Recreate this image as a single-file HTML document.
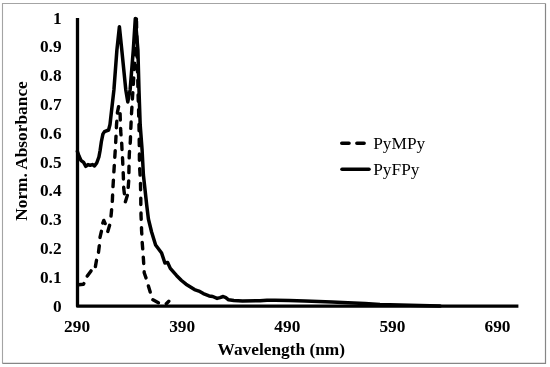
<!DOCTYPE html>
<html><head><meta charset="utf-8"><title>Absorbance</title>
<style>
html,body{margin:0;padding:0;background:#fff;}
svg{display:block;}
text{font-family:"Liberation Serif",serif;fill:#000;}
.b{font-weight:bold;font-size:17.33px;}
.l{font-size:17.33px;}
</style></head><body>
<svg width="550" height="367" viewBox="0 0 550 367">
<rect x="0" y="0" width="550" height="367" fill="#fff"/>
<path d="M2.5,363.4 V3.5 H545.5" fill="none" stroke="#a4a4a4" stroke-width="1.1"/>
<path d="M545.5,3.5 V363.4 H2.5" fill="none" stroke="#868686" stroke-width="1.2"/>
<polyline points="77.5,17.9 77.5,306.2 518.4,306.2" fill="none" stroke="#000" stroke-width="3.3" stroke-linejoin="round"/>
<polyline points="77.4,151.5 79.0,156.0 80.9,160.3 83.6,162.4 85.8,166.3 88.0,164.6 90.2,165.2 92.4,164.6 94.5,165.9 96.7,163.0 98.9,157.0 100.1,150.5 101.4,141.5 102.9,134.2 104.5,131.6 108.6,130.0 110.0,124.5 110.5,120.0 113.9,90.0 116.9,50.0 119.4,26.8 121.8,50.0 125.8,90.0 127.8,102.0 130.1,90.0 133.3,50.0 135.3,18.5 137.9,50.0 139.0,90.0 140.2,125.0 142.1,150.0 143.4,175.0 146.7,205.0 148.4,219.0 151.6,232.0 155.6,245.0 161.6,253.0 164.9,263.0 167.6,262.4 170.3,268.4 173.6,272.2 176.5,275.4 181.5,280.5 186.0,284.2 194.5,289.6 198.9,291.1 203.3,293.6 209.1,295.9 212.7,296.5 217.1,298.4 220.0,297.6 223.2,296.5 225.8,297.6 228.6,299.8 233.8,300.5 242.5,300.9 260.0,300.8 267.0,300.2 275.0,300.3 289.0,300.4 305.0,301.0 332.0,302.0 348.0,302.8 365.0,303.4 380.0,304.4 410.0,305.2 440.0,306.1" fill="none" stroke="#000" stroke-width="3.5" stroke-linejoin="round" stroke-linecap="round"/>
<path d="M78.5,284.8 L83.4,284.2 L83.8,283.6 M87.3,276.1 L91.0,270.9 M95.4,266.6 L96.5,260.3 M98.5,252.2 L99.3,245.8 M100.0,237.5 L100.0,237.3 L101.4,231.3 M102.8,223.1 L103.8,220.4 L105.2,223.6 M107.8,231.4 L109.6,225.3 M111.0,216.1 L111.5,211.0 L111.6,209.7 M112.3,201.4 L112.4,200.0 L112.6,195.0 M113.0,186.6 L113.4,180.2 M113.9,171.9 L114.2,166.8 L114.3,165.5 M114.8,157.2 L115.2,150.8 M115.7,142.5 L115.8,140.0 L116.0,136.1 M116.4,127.7 L116.5,125.0 L116.8,121.3 M117.4,113.0 L117.5,112.0 L118.6,106.7 M120.1,113.6 L120.3,120.0 M120.6,128.4 L120.7,131.0 L121.0,134.8 M121.7,143.1 L121.8,145.0 L122.0,149.5 M122.5,157.8 L122.7,161.4 L122.8,164.2 M123.2,172.6 L123.4,177.7 L123.4,179.0 M123.7,187.3 L123.8,189.0 L124.4,193.7 M125.4,201.7 L127.3,195.5 M128.2,187.3 L128.7,180.9 M128.9,172.6 L129.0,166.2 M129.2,157.9 L129.3,154.5 L129.5,151.5 M130.2,143.2 L130.4,140.0 L130.5,136.8 M130.8,128.4 L130.9,127.0 L131.1,122.0 M131.5,113.7 L131.9,107.3 M132.4,99.0 L132.8,92.6 M133.3,84.3 L133.7,77.9 M134.2,69.5 L134.6,63.1 M135.0,54.8 L135.2,48.4 M135.6,40.1 L135.8,33.7 M136.1,25.3 L136.4,18.9 M136.5,21.2 L136.6,27.6 M136.7,36.0 L136.9,42.4 M137.0,50.7 L137.2,57.1 M137.4,65.5 L137.5,71.9 M137.8,80.2 L137.9,86.6 M138.1,95.0 L138.3,101.3 M138.6,109.7 L138.7,116.1 M139.0,124.4 L139.0,125.0 L139.1,130.8 M139.2,139.2 L139.3,145.6 M139.4,153.9 L139.4,160.3 M139.7,168.7 L140.1,175.1 M140.5,183.4 L140.6,189.8 M140.8,198.2 L140.8,204.6 M141.0,212.9 L141.0,215.0 L141.2,219.3 M141.5,227.6 L141.6,231.0 L141.8,234.0 M142.2,242.4 L142.4,245.0 L142.7,248.8 M143.3,257.1 L143.6,261.8 L143.7,263.5 M144.2,271.8 L144.2,272.7 L146.0,277.9 M148.4,285.9 L150.2,292.0 M152.9,299.8 L158.4,302.8 L158.5,302.8 M166.3,303.7 L168.8,301.2" fill="none" stroke="#000" stroke-width="3.4" stroke-linejoin="round" stroke-linecap="round"/>
<g class="b">
<text x="61.6" y="23.5" text-anchor="end">1</text>
<text x="61.6" y="52.3" text-anchor="end">0.9</text>
<text x="61.6" y="81.1" text-anchor="end">0.8</text>
<text x="61.6" y="109.9" text-anchor="end">0.7</text>
<text x="61.6" y="138.7" text-anchor="end">0.6</text>
<text x="61.6" y="167.5" text-anchor="end">0.5</text>
<text x="61.6" y="196.4" text-anchor="end">0.4</text>
<text x="61.6" y="225.2" text-anchor="end">0.3</text>
<text x="61.6" y="254.0" text-anchor="end">0.2</text>
<text x="61.6" y="282.8" text-anchor="end">0.1</text>
<text x="61.6" y="311.6" text-anchor="end">0</text>
<text x="77.1" y="332.3" text-anchor="middle">290</text>
<text x="182.2" y="332.3" text-anchor="middle">390</text>
<text x="287.3" y="332.3" text-anchor="middle">490</text>
<text x="392.4" y="332.3" text-anchor="middle">590</text>
<text x="497.5" y="332.3" text-anchor="middle">690</text>
<text x="281.3" y="354.9" text-anchor="middle">Wavelength (nm)</text>
<text transform="translate(27.2,151) rotate(-90)" text-anchor="middle">Norm. Absorbance</text>
</g>
<line x1="341.8" y1="143.3" x2="364.2" y2="143.3" stroke="#000" stroke-width="3.6" stroke-linecap="round" stroke-dasharray="7.2 7.9"/>
<line x1="342" y1="169.3" x2="369" y2="169.3" stroke="#000" stroke-width="3.6" stroke-linecap="round"/>
<g class="l">
<text x="373.2" y="149">PyMPy</text>
<text x="373.2" y="174.7">PyFPy</text>
</g>
</svg>
</body></html>
